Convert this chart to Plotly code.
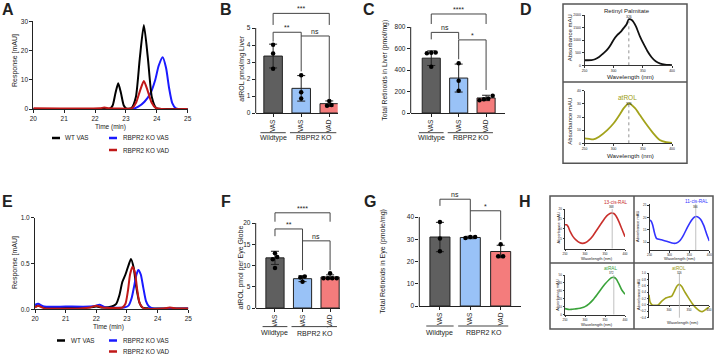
import plotly.graph_objects as go

W, H = 720, 356
FONT = "Arial, 'Liberation Sans', sans-serif"
INK = "#222222"

# ======================= DATA =======================
# A: liver HPLC chromatogram (Time, min  vs Response, mAU)
A_WT_TIME = [20.0, 22.3, 22.48, 22.57, 22.66, 22.75, 22.84, 22.93, 23.02, 23.18, 23.32, 23.45, 23.58, 23.71, 23.84, 23.98, 24.2, 25.0]
A_WT_RESP = [0.0, 0.0, 0.1, 1.2, 5.4, 8.8, 5.4, 1.2, 0.1, 0.3, 4.0, 17.5, 28.7, 17.5, 4.0, 0.3, 0.0, 0.0]
A_KOVAS_TIME = [20.0, 23.2, 23.4, 23.6, 23.8, 23.95, 24.06, 24.19, 24.3, 24.4, 24.5, 24.62, 25.0]
A_KOVAS_RESP = [0.0, 0.0, 0.8, 2.5, 5.5, 10.0, 14.8, 17.7, 14.0, 7.0, 2.0, 0.2, 0.0]
A_KOVAD_TIME = [20.0, 22.15, 22.3, 22.45, 22.7, 23.2, 23.33, 23.46, 23.58, 23.7, 23.83, 23.96, 24.15, 25.0]
A_KOVAD_RESP = [0.25, 0.25, 0.5, 0.25, 0.2, 0.3, 2.2, 6.4, 9.6, 6.4, 2.2, 0.4, 0.0, 0.0]

# E: eye HPLC chromatogram
E_WT_TIME = [20.0, 20.1, 20.3, 20.6, 21.0, 21.5, 21.9, 22.0, 22.2, 22.5, 22.65, 22.75, 22.85, 22.95, 23.05, 23.13, 23.22, 23.3, 23.4, 23.5, 23.7, 25.0]
E_WT_RESP = [0.03, 0.04, 0.025, 0.02, 0.02, 0.02, 0.025, 0.03, 0.02, 0.03, 0.06, 0.15, 0.3, 0.38, 0.48, 0.55, 0.45, 0.25, 0.08, 0.02, 0.01, 0.01]
E_KOVAS_TIME = [20.0, 20.1, 20.3, 21.0, 21.8, 22.0, 22.1, 22.3, 22.9, 23.05, 23.15, 23.25, 23.31, 23.37, 23.45, 23.53, 23.62, 23.72, 23.85, 25.0]
E_KOVAS_RESP = [0.05, 0.06, 0.03, 0.03, 0.03, 0.04, 0.05, 0.02, 0.02, 0.04, 0.12, 0.28, 0.38, 0.43, 0.38, 0.24, 0.09, 0.03, 0.01, 0.01]
E_KOVAD_TIME = [20.0, 20.1, 20.3, 21.5, 21.8, 22.0, 22.2, 22.85, 22.95, 23.03, 23.1, 23.18, 23.26, 23.34, 23.42, 23.55, 24.2, 24.4, 24.6, 25.0]
E_KOVAD_RESP = [0.02, 0.04, 0.01, 0.01, 0.02, 0.04, 0.02, 0.02, 0.06, 0.2, 0.38, 0.465, 0.4, 0.2, 0.06, 0.01, 0.01, 0.02, 0.01, 0.01]

CHROM_NAMES = ["WT VAS", "RBPR2 KO VAS", "RBPR2 KO VAD"]

# Bar panels
CATS = ["VAS", "VAS", "VAD"]
GROUP_LABELS = ["Wildtype", "RBPR2 KO"]

B_MEAN = [3.35, 1.45, 0.55]
B_SD = [0.7, 0.75, 0.16]
B_PTS = [[4.02, 3.5, 2.6], [2.22, 1.22, 0.85], [0.7, 0.47, 0.42]]
B_SIG = [(0, 1, 4.75, 4.2, 2.45, "**"), (1, 2, 4.53, 4.53, 0.8, "ns"), (0, 2, 5.86, 5.18, 5.18, "***")]

C_MEAN = [510, 325, 140]
C_SD = [68, 130, 25]
C_PTS = [[562, 555, 560, 430], [462, 300, 206], [134, 160, 128, 119]]
C_SIG = [(0, 2, 921, 828, 828, "****"), (0, 1, 750, 685, 685, "ns"), (1, 2, 680, 500, 214, "*")]

F_MEAN = [11.8, 6.9, 7.3]
F_SD = [1.55, 0.7, 0.5]
F_PTS = [[12.9, 12.0, 11.5, 9.4], [7.2, 7.4, 6.2], [8.2, 7.0, 7.0, 7.0, 7.0]]
F_SIG = [(0, 2, 22.4, 20.3, 20.3, "****"), (0, 1, 18.6, 16.9, 8.9, "**"), (1, 2, 15.8, 15.8, 8.9, "ns")]

G_MEAN = [31.0, 30.8, 24.5]
G_SD = [6.6, 0.55, 2.8]
G_PTS = [[37.8, 30.3, 24.6], [30.6, 31.0, 31.0], [27.8, 22.4, 22.4]]
G_SIG = [(0, 1, 48.0, 45.0, 33.4, "ns"), (1, 2, 42.8, 42.8, 29.7, "*")]

# D: UV-Vis spectra of standards
D_RP_WL = [250, 262, 268, 275, 282, 289, 295, 300, 306, 312, 317, 322, 326, 331, 338, 345, 352, 358, 365, 372, 380, 388, 395, 400]
D_RP_AB = [200, 205, 240, 330, 470, 620, 820, 1020, 1200, 1330, 1480, 1620, 1830, 1800, 1560, 1150, 820, 560, 320, 160, 70, 30, 15, 10]
D_ROL_WL = [250, 258, 265, 275, 289, 300, 311, 317, 326, 337, 345, 357, 368, 379, 390, 400]
D_ROL_AB = [3.8, 3.4, 3.0, 5.0, 10.0, 15.2, 22.3, 26.6, 30.4, 26.6, 21.5, 13.9, 7.6, 2.5, 0.8, 0.3]
D_PEAK = [326, 326]

# H: UV-Vis spectra of eye retinoids
H1_WL = [250, 254, 258, 263, 270, 278, 286, 294, 302, 310, 320, 330, 340, 350, 358, 366, 372, 378, 385, 392, 400]
H1_AB = [12.0, 12.0, 11.0, 8.5, 6.0, 4.2, 3.0, 2.6, 3.0, 4.2, 6.5, 9.5, 12.5, 15.5, 17.2, 18.0, 17.7, 16.3, 13.5, 10.0, 6.0]
H2_WL = [250, 254, 258, 263, 268, 280, 295, 310, 318, 326, 335, 345, 355, 363, 370, 378, 386, 394, 400]
H2_AB = [19.0, 18.6, 17.0, 13.5, 11.5, 11.0, 10.3, 9.6, 9.7, 10.6, 12.8, 16.0, 18.8, 20.2, 20.3, 19.3, 16.8, 13.0, 10.5]
H3_WL = [250, 258, 266, 275, 283, 292, 300, 310, 320, 330, 340, 350, 360, 366, 372, 378, 385, 392, 400]
H3_AB = [7.5, 6.5, 6.5, 7.0, 7.5, 8.5, 10.0, 13.5, 18.5, 25.0, 32.0, 38.5, 44.0, 46.5, 47.0, 45.0, 38.5, 31.0, 25.5]
H4_WL = [250, 253, 258, 265, 273, 282, 292, 300, 307, 313, 320, 326, 332, 340, 350, 358, 368, 376, 383, 390, 395, 400]
H4_AB = [0.32, 0.08, 0.0, -0.01, 0.0, 0.12, 0.22, 0.25, 0.28, 0.42, 0.6, 0.65, 0.58, 0.4, 0.2, 0.05, -0.1, -0.18, -0.21, -0.16, -0.11, -0.07]
H_TITLES = ["13-cis-RAL", "11-cis-RAL", "atRAL", "atROL"]
H_PEAK = [368, 366, 372, 326]

# ======================= STYLE =======================
C_BLACK, C_BLUE, C_RED = "#000000", "#1a1aff", "#c01818"
BAR_COLORS = ["#5f5f5f", "#99c2f7", "#f47c7c"]
OLIVE = "#a3a31c"
H_COLORS = ["#c9302c", "#3333ff", "#3aa33a", OLIVE]

fig = go.Figure()
layout = dict(width=W, height=H, margin=dict(l=0, r=0, t=0, b=0), template="none",
              paper_bgcolor="white", plot_bgcolor="rgba(0,0,0,0)", showlegend=False,
              font=dict(family=FONT, color=INK))
shapes, annots = [], []


def px(x):
    return x / W


def py(y):
    return 1 - y / H


def names(n):
    s = "" if n == 1 else str(n)
    return "x" + s, "y" + s, "xaxis" + s, "yaxis" + s


def base_axis(tsize=6.5, **kw):
    d = dict(showline=True, linecolor=INK, linewidth=1, ticks="outside", ticklen=3, tickwidth=1,
             tickcolor=INK, showgrid=False, zeroline=False, fixedrange=True,
             tickfont=dict(size=tsize, color=INK, family=FONT))
    d.update(kw)
    return d


def text(x, y, s, size=6, color=INK, angle=0, bold=False, xanchor="center", yanchor="middle"):
    annots.append(dict(x=px(x), y=py(y), xref="paper", yref="paper",
                       text=f"<b>{s}</b>" if bold else s, showarrow=False, borderpad=0,
                       font=dict(size=size, color=color, family=FONT), textangle=angle,
                       xanchor=xanchor, yanchor=yanchor))


def spread(vals, thresh, step):
    order = sorted(range(len(vals)), key=lambda i: vals[i])
    offs = [0.0] * len(vals)
    clusters, cur = [], [order[0]]
    for i in order[1:]:
        if vals[i] - vals[cur[-1]] < thresh:
            cur.append(i)
        else:
            clusters.append(cur)
            cur = [i]
    clusters.append(cur)
    for c in clusters:
        k = len(c)
        for r, i in enumerate(c):
            offs[i] = (r - (k - 1) / 2) * step
    return offs


# ---------------- chromatograms ----------------
def chrom_panel(n, series, xdom, ydom, ymax, ytickvals, yticktext):
    xn, yn, xa, ya = names(n)
    for t, r, c in series:
        fig.add_trace(go.Scatter(x=t, y=r, mode="lines", xaxis=xn, yaxis=yn, hoverinfo="skip",
                                 line=dict(color=c, width=2, shape="spline", smoothing=0.6)))
    layout[xa] = base_axis(domain=[px(xdom[0]), px(xdom[1])], range=[20, 25],
                           tickvals=[20, 21, 22, 23, 24, 25], anchor=yn)
    layout[ya] = base_axis(domain=[py(ydom[1]), py(ydom[0])], range=[0, ymax],
                           tickvals=ytickvals, ticktext=yticktext, anchor=xn)


chrom_panel(1, [(A_KOVAS_TIME, A_KOVAS_RESP, C_BLUE), (A_WT_TIME, A_WT_RESP, C_BLACK),
                (A_KOVAD_TIME, A_KOVAD_RESP, C_RED)],
            (33.3, 187.7), (21.3, 109), 30, [0, 10, 20, 30], ["0", "10", "20", "30"])
chrom_panel(6, [(E_WT_TIME, E_WT_RESP, C_BLACK), (E_KOVAS_TIME, E_KOVAS_RESP, C_BLUE),
                (E_KOVAD_TIME, E_KOVAD_RESP, C_RED)],
            (35, 188.3), (217.7, 309.3), 1.0, [0, 0.5, 1.0], ["0.0", "0.5", "1.0"])

text(15, 61, "Response [mAU]", size=7, angle=-90)
text(110, 127, "Time (min)", size=6.5)
text(15, 263, "Response [mAU]", size=7, angle=-90)
text(108, 327, "Time (min)", size=6.5)


def legend(entries):
    for (x0, x1, y, tx), name, c in entries:
        shapes.append(dict(type="line", xref="paper", yref="paper", x0=px(x0), x1=px(x1),
                           y0=py(y), y1=py(y), line=dict(color=c, width=2.5)))
        text(tx, y, name, size=6.3, xanchor="left")


legend([((52, 60, 138, 64), CHROM_NAMES[0], C_BLACK),
        ((109, 117, 138, 122), CHROM_NAMES[1], C_BLUE),
        ((109, 117, 150, 122), CHROM_NAMES[2], C_RED)])
legend([((57, 65, 340.5, 70), CHROM_NAMES[0], C_BLACK),
        ((109, 117, 340.5, 122), CHROM_NAMES[1], C_BLUE),
        ((109, 117, 351.5, 122), CHROM_NAMES[2], C_RED)])


# ---------------- bar panels ----------------
def bar_panel(n, means, sds, pts, sig, x_px, y0_px, ytop_px, ytop_val, yrange_top, xr,
              ytickvals, ytitle, ytitle_xy, ytitle_size, under_y, group_y):
    xn, yn, xa, ya = names(n)
    xs = list(range(len(CATS)))
    fig.add_trace(go.Bar(x=xs, y=means, width=0.66, xaxis=xn, yaxis=yn, hoverinfo="skip",
                         marker=dict(color=BAR_COLORS, line=dict(color=INK, width=1)),
                         error_y=dict(type="data", array=sds, visible=True, color=INK,
                                      thickness=1, width=4)))
    for i, p in enumerate(pts):
        offs = spread(p, 0.04 * ytop_val, 0.16)
        fig.add_trace(go.Scatter(x=[i + o for o in offs], y=p, mode="markers", xaxis=xn, yaxis=yn,
                                 hoverinfo="skip", cliponaxis=False,
                                 marker=dict(color="black", size=4.5)))
    top_px = y0_px - (y0_px - ytop_px) * yrange_top / ytop_val
    layout[xa] = base_axis(domain=[px(x_px[0]), px(x_px[1])], range=xr, tickvals=xs,
                           ticktext=CATS, tickangle=-90, anchor=yn)
    layout[ya] = base_axis(domain=[py(y0_px), py(top_px)], range=[0, yrange_top],
                           tickvals=ytickvals, showline=False, anchor=xn)
    shapes.append(dict(type="line", xref=f"{xn} domain", x0=0, x1=0, yref=yn, y0=0, y1=ytop_val,
                       line=dict(color=INK, width=1)))
    for (i, j, yb, yl, yrr, lab) in sig:
        shapes.append(dict(type="path", xref=xn, yref=yn,
                           path=f"M {i},{yl} L {i},{yb} L {j},{yb} L {j},{yrr}",
                           line=dict(color="#444444", width=1)))
        annots.append(dict(x=(i + j) / 2, y=yb, xref=xn, yref=yn, text=lab, showarrow=False,
                           yanchor="bottom", borderpad=0, font=dict(size=7, color=INK, family=FONT)))
    # group underlines and labels
    for (a, b), gx, lab in [((-0.45, 0.45), 0, GROUP_LABELS[0]), ((0.6, 2.25), 1.45, GROUP_LABELS[1])]:
        shapes.append(dict(type="line", xref=xn, yref="paper", x0=a, x1=b, y0=py(under_y), y1=py(under_y),
                           line=dict(color="#444444", width=1)))
        annots.append(dict(x=gx, y=py(group_y), xref=xn, yref="paper", text=lab, showarrow=False,
                           yanchor="middle", borderpad=0, font=dict(size=7, color=INK, family=FONT)))
    text(ytitle_xy[0], ytitle_xy[1], ytitle, size=ytitle_size, angle=-90)


bar_panel(2, B_MEAN, B_SD, B_PTS, B_SIG, (255.7, 337.7), 113, 28, 5, 6.3, [-0.62, 2.3],
          [0, 1, 2, 3, 4, 5], "atROL pmol/mg Liver", (241.7, 68), 7, 132.7, 137.5)
bar_panel(3, C_MEAN, C_SD, C_PTS, C_SIG, (410.7, 505), 113, 27, 800, 1000, [-0.75, 2.69],
          [0, 200, 400, 600, 800], "Total Retinoids in Liver (pmol/mg)", (385, 70.7), 6.8, 132.7, 137.5)
bar_panel(7, F_MEAN, F_SD, F_PTS, F_SIG, (255.7, 340), 308, 223, 20, 24.5, [-0.7, 2.36],
          [0, 5, 10, 15, 20], "atROL pmol per Eye Globe", (240, 267.5), 7, 326.6, 333)
bar_panel(8, G_MEAN, G_SD, G_PTS, G_SIG, (419.3, 520.7), 306, 217, 40, 53, [-0.68, 2.66],
          [0, 10, 20, 30, 40], "Total Retinoids in Eye (pmole/mg)", (383, 261.7), 7, 326, 332.7)


# ---------------- spectra ----------------
def spec_panel(n, wl, ab, color, xdom, ydom, yr, ytickvals, xtickvals, tsize, peak, peak_style,
               peak_top=None, free_zero=False, lw=1.6):
    xn, yn, xa, ya = names(n)
    fig.add_trace(go.Scatter(x=wl, y=ab, mode="lines", xaxis=xn, yaxis=yn, hoverinfo="skip",
                             line=dict(color=color, width=lw, shape="spline", smoothing=0.6)))
    ylo, yhi = py(ydom[1]), py(ydom[0])
    xax = base_axis(tsize=tsize, domain=[px(xdom[0]), px(xdom[1])], range=[250, 400],
                    tickvals=xtickvals, anchor=yn, ticklen=2, linecolor="#333", tickcolor="#333")
    if free_zero:
        xax.update(anchor="free", position=ylo + (0 - yr[0]) / (yr[1] - yr[0]) * (yhi - ylo))
    layout[xa] = xax
    layout[ya] = base_axis(tsize=tsize, domain=[ylo, yhi], range=yr, tickvals=ytickvals, anchor=xn,
                           ticklen=2, linecolor="#333", tickcolor="#333")
    if peak_style == "dot":
        shapes.append(dict(type="line", xref=xn, yref=yn, x0=peak, x1=peak, y0=0, y1=peak_top,
                           line=dict(color="#777777", width=0.8, dash="dot")))
    else:
        shapes.append(dict(type="line", xref=xn, yref=f"{yn} domain", x0=peak, x1=peak, y0=0, y1=1,
                           line=dict(color="#b0b0b0", width=0.8)))


# D
spec_panel(4, D_RP_WL, D_RP_AB, "#111111", (584.5, 672), (15, 65.3), [0, 2000],
           [0, 500, 1000, 1500, 2000], [250, 300, 350, 400], 3.4, D_PEAK[0], "dot", peak_top=1830, lw=1.8)
spec_panel(5, D_ROL_WL, D_ROL_AB, OLIVE, (584.5, 672), (90.7, 143.3), [0, 40],
           [0, 10, 20, 30, 40], [250, 300, 350, 400], 3.4, D_PEAK[1], "dot", peak_top=30.4, lw=1.8)
shapes.append(dict(type="rect", xref="paper", yref="paper", x0=px(563), x1=px(687), y0=py(163.3), y1=py(4),
                   line=dict(color="#555555", width=1.5)))
shapes.append(dict(type="line", xref="paper", yref="paper", x0=px(563), x1=px(687), y0=py(82), y1=py(82),
                   line=dict(color="#555555", width=1.5)))
text(627.3, 11, "Retinyl Palmitate", size=6)
text(628.8, 17, str(D_PEAK[0]), size=3.4)
text(627.3, 97.5, "atROL", size=6.5, color="#9a9a10")
text(628.8, 103.5, str(D_PEAK[1]), size=3.4)
text(570, 38.3, "Absorbance mAU", size=6, angle=-90)
text(570, 121.7, "Absorbance mAU", size=6, angle=-90)
text(630, 76.5, "Wavelength (nm)", size=6.2)
text(630, 155.5, "Wavelength (nm)", size=6.2)

# H
spec_panel(9, H1_WL, H1_AB, H_COLORS[0], (565, 625), (209, 248.5), [0, 20], [5, 10, 15, 20],
           [250, 300, 350, 400], 3.0, H_PEAK[0], "solid")
spec_panel(10, H2_WL, H2_AB, H_COLORS[1], (649.5, 709.3), (203.8, 250), [6.9, 25.5], [10, 15, 20, 25],
           [250, 300, 350, 400], 3.0, H_PEAK[1], "solid")
spec_panel(11, H3_WL, H3_AB, H_COLORS[2], (565, 625), (275, 314.5), [0, 50], [0, 10, 20, 30, 40, 50],
           [250, 300, 350, 400], 3.0, H_PEAK[2], "solid")
spec_panel(12, H4_WL, H4_AB, H_COLORS[3], (649, 709), (273.2, 317.7), [-0.4, 1.0],
           [-0.4, -0.2, 0.0, 0.2, 0.4, 0.6, 0.8, 1.0], [300, 350, 400], 3.0, H_PEAK[3], "solid",
           free_zero=True)
layout["yaxis12"]["tickformat"] = ".1f"
for k in ["xaxis9", "xaxis10", "xaxis11", "xaxis12", "yaxis9", "yaxis10", "yaxis11", "yaxis12"]:
    layout[k]["ticklen"] = 1.5
shapes.append(dict(type="rect", xref="paper", yref="paper", x0=px(550), x1=px(713), y0=py(329), y1=py(196),
                   line=dict(color="#555555", width=1.5)))
shapes.append(dict(type="line", xref="paper", yref="paper", x0=px(634), x1=px(634), y0=py(329), y1=py(196),
                   line=dict(color="#555555", width=1.5)))
shapes.append(dict(type="line", xref="paper", yref="paper", x0=px(550), x1=px(713), y0=py(263), y1=py(263),
                   line=dict(color="#555555", width=1.5)))
for (tx, ty), s, c in [((615.7, 202.5), H_TITLES[0], H_COLORS[0]), ((696.7, 201.8), H_TITLES[1], H_COLORS[1]),
                       ((610, 268.5), H_TITLES[2], H_COLORS[2]), ((679.3, 268.5), H_TITLES[3], "#9a9a10")]:
    text(tx, ty, s, size=4.7, color=c)
for (lx, ly), pk in zip([(611.7, 207.2), (695.5, 206.5), (611.5, 273.2), (679.3, 273.2)], H_PEAK):
    text(lx, ly, str(pk), size=2.8)
for (x, y) in [(557.5, 228), (638, 227), (556.7, 295), (638, 295)]:
    text(x, y, "Absorbance mAU", size=4, angle=-90)
for (x, y) in [(597, 258.8), (680, 258.8), (597, 324), (683, 322.5)]:
    text(x, y, "Wavelength (nm)", size=4.1)

# ---------------- panel letters ----------------
for (x, y), L in [((7.5, 9), "A"), ((225.5, 9), "B"), ((369, 9), "C"), ((526, 9), "D"),
                  ((7.5, 201), "E"), ((226, 201), "F"), ((370, 201), "G"), ((525, 201), "H")]:
    text(x, y, L, size=16, bold=True)

layout["shapes"] = shapes
layout["annotations"] = annots
fig.update_layout(**layout)
fig.write_html("out.html", config={"displayModeBar": False},
               post_script="document.body.style.margin='0';document.body.style.overflow='hidden';")
